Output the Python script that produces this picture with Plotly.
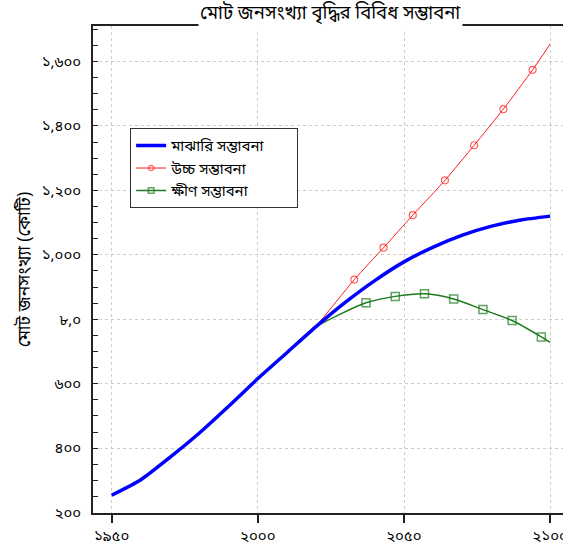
import plotly.graph_objects as go

# ---- data (population in crore) ----
years_medium = [1950, 1960, 1970, 1980, 1990, 2000, 2010, 2020, 2030, 2040,
                2050, 2060, 2070, 2080, 2090, 2100]
medium = [254, 302, 372, 447, 530, 616, 697, 778, 853, 920,
          978, 1024, 1061, 1089, 1108, 1120]

years_high = [2020, 2033, 2043, 2053, 2064, 2074, 2084, 2094, 2100]
high = [778, 923, 1022, 1123, 1231, 1340, 1452, 1574, 1654]
high_marked = [False, True, True, True, True, True, True, True, False]

years_low = [2020, 2028, 2037, 2047, 2057, 2067, 2077, 2087, 2097, 2100]
low = [778, 815, 851, 871, 879, 863, 830, 796, 745, 728]
low_marked = [False, False, True, True, True, True, True, True, True, False]

series_names = ["মাঝারি সম্ভাবনা", "উচ্চ সম্ভাবনা", "ক্ষীণ সম্ভাবনা"]

x_tickvals = [1950, 2000, 2050, 2100]
x_ticktext = ["১৯৫০", "২০০০", "২০৫০", "২১০০"]
y_tickvals = [200, 400, 600, 800, 1000, 1200, 1400, 1600]
y_ticktext = ["২০০", "৪০০", "৬০০", "৮,০", "১,০০০", "১,২০০", "১,৪০০", "১,৬০০"]

title_text = "মোট জনসংখ্যা বৃদ্ধির বিবিধ সম্ভাবনা"
y_title = "মোট জনসংখ্যা (কোটি)"

FONT = "Noto Sans Bengali, Lohit Bengali, Vrinda, Noto Sans, sans-serif"
PAD = "\u00a0" * 7

fig = go.Figure()

fig.add_trace(go.Scatter(
    x=years_high, y=high, name=series_names[1] + PAD, mode="lines+markers",
    line=dict(color="#ff1a1a", width=1, shape="spline", smoothing=0.6),
    marker=dict(symbol="circle-open", color="#ff1a1a",
                size=[7 if m else 0 for m in high_marked], line=dict(width=1.2)),
    legendrank=2,
))
fig.add_trace(go.Scatter(
    x=years_low, y=low, name=series_names[2] + PAD, mode="lines+markers",
    line=dict(color="#1e7a1e", width=1.5, shape="spline", smoothing=0.8),
    marker=dict(symbol="square-open", color="#1e7a1e",
                size=[8 if m else 0 for m in low_marked], line=dict(width=1.5)),
    legendrank=3,
))
fig.add_trace(go.Scatter(
    x=years_medium, y=medium, name=series_names[0] + PAD, mode="lines",
    line=dict(color="#0000ff", width=3.5, shape="spline", smoothing=0.6),
    legendrank=1,
))

fig.update_layout(
    width=563, height=551,
    margin=dict(l=93, r=0, t=26, b=38),
    paper_bgcolor="white", plot_bgcolor="white",
    font=dict(family=FONT, color="black", size=13),
    showlegend=True,
    legend=dict(x=0.079, y=0.79, xanchor="left", yanchor="top",
                bgcolor="white", bordercolor="#333333", borderwidth=1,
                font=dict(size=15, family=FONT)),
    annotations=[dict(text=title_text, x=0.506, y=1.0246, xref="paper", yref="paper",
                      xanchor="center", yanchor="middle", showarrow=False,
                      bgcolor="white", font=dict(size=18.5, family=FONT, color="black"))],
)

fig.update_xaxes(
    range=[1943.6, 2104.4], tickvals=x_tickvals, ticktext=x_ticktext,
    ticks="outside", ticklen=8, tickwidth=1.5, tickcolor="#222",
    showline=True, linecolor="#222", linewidth=1.5, mirror=True,
    showgrid=True, gridcolor="#cccccc", gridwidth=1, griddash="3px,3px",
    zeroline=False, tickfont=dict(size=15, family=FONT),
    automargin=False, ticklabeloverflow="allow",
)
fig.update_yaxes(
    range=[198.8, 1710], tickvals=y_tickvals, ticktext=y_ticktext,
    ticks="inside", ticklen=5, tickwidth=1, tickcolor="#222",
    minor=dict(dtick=50, tick0=0, ticks="inside", ticklen=5, tickcolor="#222", showgrid=False),
    showline=True, linecolor="#222", linewidth=1.5,
    showgrid=True, gridcolor="#cccccc", gridwidth=1, griddash="3px,3px",
    zeroline=False, tickfont=dict(size=15, family=FONT), ticklabelstandoff=7,
    automargin=False, ticklabeloverflow="allow",
    title=dict(text=y_title, font=dict(size=17.5, family=FONT), standoff=7),
)

fig.write_html("out.html", config={"displayModeBar": False},
               post_script="document.body.style.margin='0';")
